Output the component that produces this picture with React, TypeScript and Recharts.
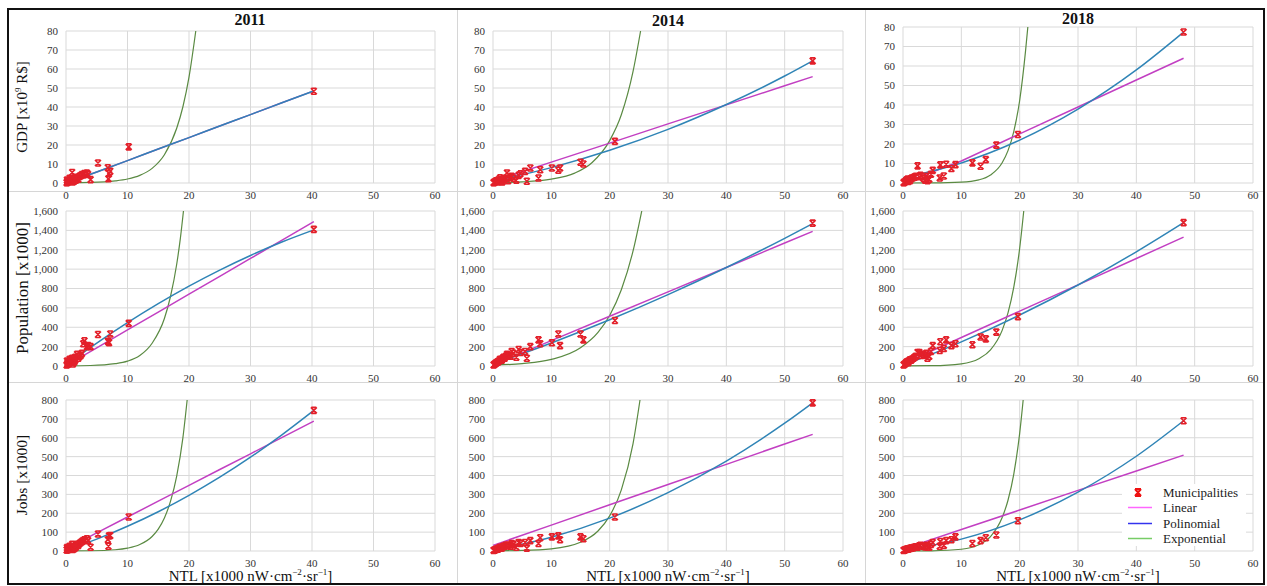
import React from 'react';
import { ComposedChart, Scatter, Line, XAxis, YAxis, CartesianGrid } from 'recharts';

// ---------- data ----------
const years = ['2011', '2014', '2018'];
const xTicks = [0, 10, 20, 30, 40, 50, 60];
const gdpTicks = [0, 10, 20, 30, 40, 50, 60, 70, 80];
const popTicks = [0, 200, 400, 600, 800, 1000, 1200, 1400, 1600];
const jobsTicks = [0, 100, 200, 300, 400, 500, 600, 700, 800];

// municipalities 2011
const ntl2011 = [40.3, 10.2, 5.2, 6.8, 7.2, 7.0, 6.9, 4.0, 3.0, 3.4, 2.6, 2.2, 1.0, 1.8, 1.5, 1.2, 0.8, 0.5, 0.3, 0.2, 0.1, 0.6, 0.9, 1.3, 1.6, 2.0, 2.4, 2.8, 0.4, 0.7, 1.1, 1.4, 0.15, 0.25, 3.6];
const gdp2011 = [48.3, 19, 10.5, 8, 6.2, 5, 2.2, 1.8, 5, 5.2, 4.5, 3.5, 5.5, 2.5, 3, 2, 1.5, 1, 0.5, 0.3, 0.2, 2.5, 1.8, 1, 1.5, 2, 3.8, 4.2, 0.8, 1.2, 0.6, 1.8, 1.5, 1, 4.5];
const pop2011 = [1410, 440, 325, 255, 330, 240, 250, 200, 260, 200, 130, 100, 80, 120, 90, 60, 50, 40, 20, 15, 10, 70, 60, 40, 70, 80, 110, 230, 30, 45, 20, 50, 50, 30, 210];
const jobs2011 = [745, 180, 90, 60, 82, 80, 25, 20, 60, 65, 50, 40, 35, 35, 25, 20, 15, 15, 10, 5, 5, 25, 20, 12, 20, 30, 45, 55, 8, 10, 8, 15, 18, 12, 55];

// municipalities 2014
const ntl2014 = [54.8, 20.9, 15.0, 15.5, 11.2, 11.5, 10.1, 7.8, 8.1, 6.4, 5.5, 4.7, 5.8, 2.4, 3.0, 3.5, 4.0, 2.0, 1.5, 1.0, 0.5, 0.2, 0.8, 1.2, 1.8, 2.6, 3.2, 0.3, 0.6, 1.4, 2.2, 4.4, 0.1, 0.9, 1.6];
const gdp2014 = [64.3, 21.9, 10.9, 10, 6.7, 7.9, 7.9, 2.6, 7, 7.9, 6.1, 4.9, 0.9, 5.3, 3, 2.5, 1.5, 2.5, 2, 1.5, 1, 0.3, 0.5, 2.8, 1.8, 1.2, 3.5, 0.5, 1.2, 0.8, 2.2, 4, 0.2, 1.6, 0.6];
const pop2014 = [1475, 470, 330, 270, 330, 210, 240, 270, 230, 200, 150, 140, 80, 120, 100, 130, 90, 80, 60, 50, 30, 15, 40, 70, 90, 110, 150, 20, 35, 60, 100, 170, 10, 45, 75];
const jobs2014 = [785, 180, 75, 65, 80, 60, 75, 40, 70, 55, 45, 40, 15, 30, 25, 35, 20, 25, 20, 15, 8, 4, 10, 20, 25, 30, 40, 5, 10, 15, 30, 45, 3, 12, 18];

// municipalities 2018
const ntl2018 = [48.1, 19.7, 16.0, 14.2, 13.3, 11.9, 9.0, 8.3, 7.4, 6.4, 7.0, 6.3, 5.1, 4.8, 2.5, 4.5, 4.0, 3.5, 3.0, 2.0, 1.5, 1.0, 0.5, 0.2, 0.8, 1.2, 1.8, 2.8, 3.8, 0.3, 0.6, 1.4, 2.2, 4.2, 0.1, 0.9];
const gdp2018 = [77.4, 24.9, 19.4, 12, 8.6, 10.3, 9.4, 7.4, 9.6, 9.3, 3.6, 2.6, 6.5, 4.5, 8.8, 2, 3.5, 2.5, 4, 3, 2.5, 1.5, 1, 0.3, 2, 1.2, 2.8, 3.2, 1.5, 0.5, 1.5, 2.2, 3.5, 1.2, 0.2, 0.8];
const pop2018 = [1480, 510, 350, 280, 300, 220, 230, 210, 270, 250, 180, 160, 210, 150, 140, 100, 130, 120, 110, 90, 70, 50, 30, 15, 45, 65, 80, 140, 110, 20, 40, 60, 100, 80, 10, 35];
const jobs2018 = [690, 160, 85, 70, 55, 40, 75, 60, 55, 50, 30, 25, 45, 35, 20, 20, 30, 25, 30, 20, 15, 12, 8, 4, 10, 14, 18, 28, 22, 5, 9, 15, 22, 20, 3, 11];

// linear & polynomial trend lines (read at these NTL values)
const fitX2011 = [0, 5, 10, 15, 20, 25, 30, 35, 40.3];
const gdpLin2011 = [0, 5.8, 11.8, 17.9, 23.9, 30.0, 36.0, 42.1, 48.5];
const gdpPoly2011 = [0, 5.8, 11.8, 17.9, 23.9, 30.0, 36.0, 42.1, 48.5];
const popLin2011 = [3, 188, 372, 557, 741, 926, 1110, 1295, 1490];
const popPoly2011 = [10, 236, 447, 643, 824, 990, 1141, 1277, 1405];
const jobsLin2011 = [12, 96, 180, 264, 348, 432, 515, 599, 688];
const jobsPoly2011 = [5, 63, 131, 208, 295, 391, 497, 613, 745];

const fitX2014 = [0, 10, 20, 30, 40, 50, 54.8];
const gdpLin2014 = [0.9, 11.0, 21.0, 31.1, 41.1, 51.2, 56.0];
const gdpPoly2014 = [1, 8.1, 17.2, 28.2, 41.3, 56.3, 64.3];
const popLin2014 = [10, 262, 514, 765, 1017, 1269, 1390];
const popPoly2014 = [20, 238, 477, 737, 1017, 1318, 1470];
const jobsLin2014 = [30, 137, 245, 352, 459, 567, 618];
const jobsPoly2014 = [5, 73, 174, 309, 476, 677, 785];

const fitX2018 = [0, 10, 20, 30, 40, 48.1];
const gdpLin2018 = [0, 11.3, 25.2, 39.0, 52.8, 64.0];
const gdpPoly2018 = [2.7, 10.3, 22.0, 37.9, 58.0, 77.4];
const popLin2018 = [22, 294, 566, 838, 1110, 1330];
const popPoly2018 = [5, 249, 526, 836, 1179, 1480];
const jobsLin2018 = [10, 114, 217, 321, 424, 508];
const jobsPoly2018 = [5, 63, 165, 312, 502, 690];

// exponential trend lines
const gdpExpX2011 = [0, 4, 8, 10, 12, 14, 16, 18, 19, 20, 21.1];
const gdpExpY2011 = [0.1, 0.3, 1.1, 2.1, 4.0, 7.7, 14.9, 28.8, 40, 55.7, 80];
const popExpX2011 = [0, 4, 8, 10, 12, 14, 16, 17, 18, 18.6, 19.1];
const popExpY2011 = [1, 5, 24, 50, 108, 235, 490, 720, 1050, 1320, 1600];
const jobsExpX2011 = [0, 4, 8, 10, 12, 14, 15, 16, 17, 18, 19, 19.7];
const jobsExpY2011 = [0.3, 1.3, 6.6, 15, 34, 77, 116, 175, 264, 397, 598, 800];

const gdpExpX2014 = [0, 5, 10, 14, 17, 20, 22, 24, 25.3];
const gdpExpY2014 = [0.2, 0.6, 2.0, 5.2, 10.8, 22.3, 35.9, 58.6, 80];
const popExpX2014 = [0, 5, 10, 15, 18, 20, 22, 24, 25.5];
const popExpY2014 = [9, 25, 68, 189, 348, 522, 787, 1185, 1600];
const jobsExpX2014 = [0, 5, 10, 15, 18, 20, 22, 24, 25.2];
const jobsExpY2014 = [0.7, 2.8, 11.3, 46, 106, 186, 324, 568, 800];

const gdpExpX2018 = [0, 5, 10, 13, 15, 17, 18, 19, 20, 21, 21.4];
const gdpExpY2018 = [0, 0.04, 0.4, 1.6, 4.1, 10.4, 16.6, 26.5, 42.3, 67.5, 80];
const popExpX2018 = [0, 5, 10, 13, 15, 17, 18, 19, 20, 20.7];
const popExpY2018 = [0.4, 3.1, 22.8, 75, 166, 368, 548, 816, 1215, 1600];
const jobsExpX2018 = [0, 5, 10, 13, 15, 17, 18, 19, 20, 20.6];
const jobsExpY2018 = [0.1, 1.1, 9.3, 33, 76, 177, 269, 409, 623, 800];

// ---------- helpers ----------
const zip = (xs: number[], ys: number[]) => xs.map((x, i) => ({ x, y: ys[i] }));

const FONT = '"Liberation Serif", "DejaVu Serif", serif';
const C_RED = '#e3202a';
const C_LIN = '#c23fc2';
const C_POLY = '#2f84b6';
const C_EXP = '#5a8a42';

const XMark = (props: any) => {
  const { cx, cy } = props;
  if (cx == null || cy == null || isNaN(cx) || isNaN(cy)) return null;
  const s = 3;
  const d = `M${cx - s},${cy - s}L${cx + s},${cy + s}M${cx + s},${cy - s}L${cx - s},${cy + s}M${cx - s + 0.5},${cy - s}L${cx + s - 0.5},${cy - s}M${cx - s + 0.5},${cy + s}L${cx + s - 0.5},${cy + s}`;
  return <path d={d} stroke={C_RED} strokeWidth={1.6} fill="none" />;
};

const fmtThousands = (v: number) => v.toLocaleString('en-US');

const XTick = (props: any) => {
  const { x, y, payload } = props;
  return (
    <text x={x} y={y} dy="0.71em" textAnchor="middle" fill="#333" style={{ fontFamily: FONT, fontSize: 11 }}>
      {payload.value}
    </text>
  );
};

const makeYTick = (fmt?: (v: number) => string) => (props: any) => {
  const { x, y, payload } = props;
  const v = fmt ? fmt(payload.value) : String(payload.value);
  return (
    <text x={x} y={y} dy="0.355em" textAnchor="end" fill="#333" style={{ fontFamily: FONT, fontSize: 11 }}>
      {v}
    </text>
  );
};

type PanelProps = {
  left: number; right: number; top: number; bottom: number;
  pts: { x: number; y: number }[];
  lin: { x: number; y: number }[];
  poly: { x: number; y: number }[];
  exp: { x: number; y: number }[];
  yMax: number; yTicks: number[];
  fmt?: (v: number) => string;
};

function Panel(p: PanelProps) {
  const L = 60, T = 10, R = 10, B = 30;
  const plotW = p.right - p.left;
  const plotH = p.bottom - p.top;
  return (
    <div style={{ position: 'absolute', left: p.left - L, top: p.top - T }}>
      <ComposedChart width={plotW + L + R} height={plotH + T + B} margin={{ top: T, right: R, left: 0, bottom: 0 }}>
        <CartesianGrid stroke="#d9d9d9" strokeWidth={1} />
        <XAxis type="number" dataKey="x" domain={[0, 60]} ticks={xTicks} interval={0} height={B}
          tickSize={0} tickMargin={8} axisLine={false} tickLine={false} tick={XTick} />
        <YAxis type="number" dataKey="y" domain={[0, p.yMax]} ticks={p.yTicks} interval={0} width={L}
          tickSize={0} tickMargin={8} axisLine={false} tickLine={false} tick={makeYTick(p.fmt)} />
        <Scatter data={p.pts} dataKey="y" shape={XMark} isAnimationActive={false} />
        <Line data={p.exp} dataKey="y" type="monotone" stroke={C_EXP} strokeWidth={1.2} dot={false} isAnimationActive={false} />
        <Line data={p.lin} dataKey="y" type="linear" stroke={C_LIN} strokeWidth={1.5} dot={false} isAnimationActive={false} />
        <Line data={p.poly} dataKey="y" type="monotone" stroke={C_POLY} strokeWidth={1.5} dot={false} isAnimationActive={false} />
      </ComposedChart>
    </div>
  );
}

const COLS = [
  { left: 66, right: 435 },
  { left: 493, right: 843 },
  { left: 903, right: 1253 },
];
const ROWS = [
  { top: 31, bottom: 183 },
  { top: 211, bottom: 366 },
  { top: 400, bottom: 551 },
];

export default function App() {
  const ntl = [ntl2011, ntl2014, ntl2018];
  const fitX = [fitX2011, fitX2014, fitX2018];
  const rowsData = [
    {
      vals: [gdp2011, gdp2014, gdp2018],
      lin: [gdpLin2011, gdpLin2014, gdpLin2018],
      poly: [gdpPoly2011, gdpPoly2014, gdpPoly2018],
      expX: [gdpExpX2011, gdpExpX2014, gdpExpX2018],
      expY: [gdpExpY2011, gdpExpY2014, gdpExpY2018],
      yMax: 80, ticks: gdpTicks, fmt: undefined as any,
    },
    {
      vals: [pop2011, pop2014, pop2018],
      lin: [popLin2011, popLin2014, popLin2018],
      poly: [popPoly2011, popPoly2014, popPoly2018],
      expX: [popExpX2011, popExpX2014, popExpX2018],
      expY: [popExpY2011, popExpY2014, popExpY2018],
      yMax: 1600, ticks: popTicks, fmt: fmtThousands,
    },
    {
      vals: [jobs2011, jobs2014, jobs2018],
      lin: [jobsLin2011, jobsLin2014, jobsLin2018],
      poly: [jobsPoly2011, jobsPoly2014, jobsPoly2018],
      expX: [jobsExpX2011, jobsExpX2014, jobsExpX2018],
      expY: [jobsExpY2011, jobsExpY2014, jobsExpY2018],
      yMax: 800, ticks: jobsTicks, fmt: undefined as any,
    },
  ];

  const panels: React.ReactNode[] = [];
  rowsData.forEach((rd, r) => {
    COLS.forEach((c, ci) => {
      const top = r === 0 && ci === 2 ? 27 : ROWS[r].top;
      panels.push(
        <Panel key={`${r}-${ci}`} left={c.left} right={c.right} top={top} bottom={ROWS[r].bottom}
          pts={zip(ntl[ci], rd.vals[ci])}
          lin={zip(fitX[ci], rd.lin[ci])}
          poly={zip(fitX[ci], rd.poly[ci])}
          exp={zip(rd.expX[ci], rd.expY[ci])}
          yMax={rd.yMax} yTicks={rd.ticks} fmt={rd.fmt} />
      );
    });
  });

  const titleCenters = [250, 668, 1078];
  const titleYs = [20, 21, 19];
  const yTitles = [
    { text: <>GDP [x10<sup style={{ fontSize: '0.6em' }}>9</sup> R$]</>, y: 107, size: 15 },
    { text: <>Population [x1000]</>, y: 288, size: 17 },
    { text: <>Jobs [x1000]</>, y: 475, size: 15.5 },
  ];

  const legendItems = [
    { label: 'Municipalities', kind: 'mark', color: '#ee1111' },
    { label: 'Linear', kind: 'line', color: '#ff66ff' },
    { label: 'Polinomial', kind: 'line', color: '#3333ee' },
    { label: 'Exponential', kind: 'line', color: '#77cc66' },
  ];

  return (
    <div style={{ position: 'fixed', left: 0, top: 0, width: 1267, height: 586, overflow: 'hidden', background: '#fff', fontFamily: FONT }}>
      {/* panel separators */}
      <div style={{ position: 'absolute', left: 457, top: 8, width: 1, height: 576, background: '#d6d6d6' }} />
      <div style={{ position: 'absolute', left: 865, top: 8, width: 1, height: 576, background: '#d6d6d6' }} />
      <div style={{ position: 'absolute', left: 8, top: 191, width: 1256, height: 1, background: '#d6d6d6' }} />
      <div style={{ position: 'absolute', left: 8, top: 382, width: 1256, height: 1, background: '#d6d6d6' }} />

      {panels}

      {/* year titles */}
      {years.map((yr, i) => (
        <div key={yr} style={{ position: 'absolute', left: titleCenters[i], top: titleYs[i], transform: 'translate(-50%, -50%)', fontSize: 16, fontWeight: 'bold', color: '#111', whiteSpace: 'nowrap' }}>{yr}</div>
      ))}

      {/* y-axis titles */}
      {yTitles.map((t, i) => (
        <div key={i} style={{ position: 'absolute', left: 22, top: t.y, transform: 'translate(-50%, -50%) rotate(-90deg)', fontSize: t.size, color: '#111', whiteSpace: 'nowrap', lineHeight: 1 }}>{t.text}</div>
      ))}

      {/* x-axis titles */}
      {COLS.map((c, i) => (
        <div key={i} style={{ position: 'absolute', left: (c.left + c.right) / 2, top: 576, transform: 'translate(-50%, -50%)', fontSize: 15, color: '#111', whiteSpace: 'nowrap', lineHeight: 1 }}>
          NTL [x1000 nW·cm<sup style={{ fontSize: '0.6em' }}>−2</sup>·sr<sup style={{ fontSize: '0.6em' }}>−1</sup>]
        </div>
      ))}

      {/* legend */}
      <div style={{ position: 'absolute', left: 1122, top: 484, width: 124, height: 62, background: '#fff' }}>
        {legendItems.map((it, i) => (
          <div key={it.label} style={{ position: 'absolute', left: 0, top: 1 + i * 15.3, height: 15, width: 124 }}>
            <svg width={30} height={15} style={{ position: 'absolute', left: 4, top: 0 }}>
              {it.kind === 'mark' ? (
                <path d="M9,4L15,11M15,4L9,11M9,4L15,4M9,11L15,11" stroke={it.color} strokeWidth={2} fill="none" />
              ) : (
                <line x1={2} y1={7.5} x2={26} y2={7.5} stroke={it.color} strokeWidth={1.5} />
              )}
            </svg>
            <span style={{ position: 'absolute', left: 41, top: 0, fontSize: 13, lineHeight: '15px', color: '#222', whiteSpace: 'nowrap' }}>{it.label}</span>
          </div>
        ))}
      </div>

      {/* outer frame */}
      <div style={{ position: 'absolute', left: 7, top: 8, width: 1258, height: 577, border: '2.5px solid #111', boxSizing: 'border-box', pointerEvents: 'none' }} />
    </div>
  );
}
